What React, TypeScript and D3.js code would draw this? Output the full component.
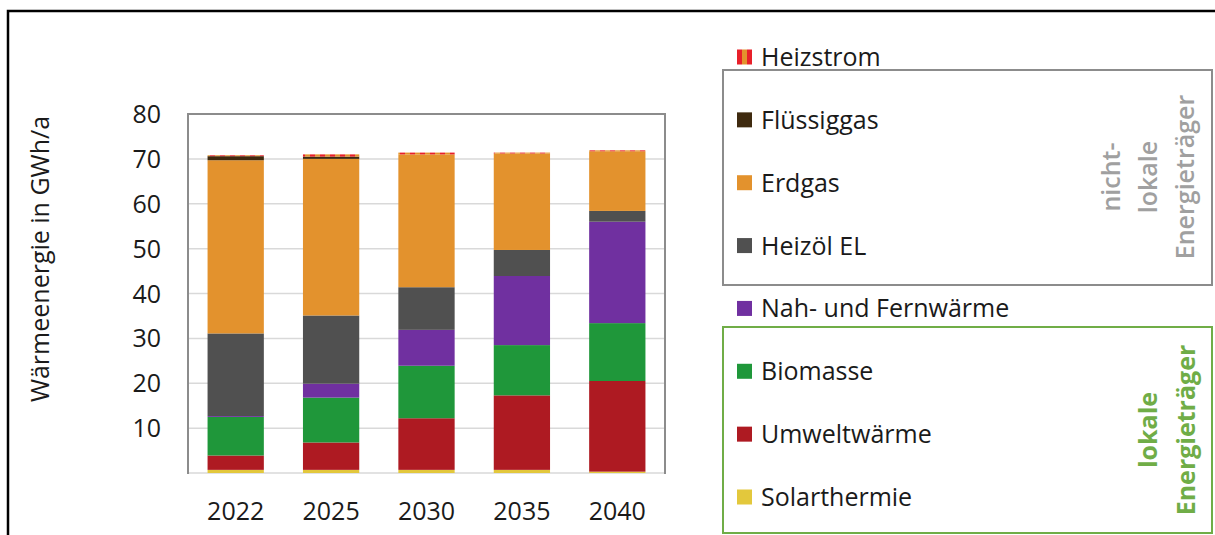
import React from "react";
import * as d3 from "d3";

const years = ["2022", "2025", "2030", "2035", "2040"];
const solarthermie = [0.7, 0.7, 0.7, 0.7, 0.3];
const umweltwaerme = [3.2, 6.1, 11.5, 16.6, 20.2];
const biomasse = [8.6, 10.0, 11.7, 11.2, 12.9];
const nahFernwaerme = [0.2, 3.1, 8.0, 15.4, 22.6];
const heizoel = [18.4, 15.2, 9.5, 5.8, 2.4];
const erdgas = [38.6, 34.9, 29.6, 21.5, 13.3];
const fluessiggas = [0.9, 0.5, 0, 0, 0];
const heizstrom = [0.2, 0.5, 0.4, 0.2, 0.2];
const yTicks = [10, 20, 30, 40, 50, 60, 70, 80];

// bottom to top stacking order
const series = [
  { key: "Solarthermie", values: solarthermie, color: "#e3c83c" },
  { key: "Umweltwärme", values: umweltwaerme, color: "#ae1a22" },
  { key: "Biomasse", values: biomasse, color: "#1f973a" },
  { key: "Nah- und Fernwärme", values: nahFernwaerme, color: "#7030a0" },
  { key: "Heizöl EL", values: heizoel, color: "#505050" },
  { key: "Erdgas", values: erdgas, color: "#e3922d" },
  { key: "Flüssiggas", values: fluessiggas, color: "#3f2a0f" },
  { key: "Heizstrom", values: heizstrom, color: "url(#heizstrom)" },
];

const FONT = "'Open Sans', 'Noto Sans', sans-serif";

export default function App() {
  const W = 1215;
  const H = 535;
  const plot = { left: 188, right: 665, top: 114, bottom: 473 };

  const x = d3
    .scaleBand()
    .domain(years)
    .range([plot.left, plot.right])
    .paddingInner(0.41)
    .paddingOuter(0.205);
  const y = d3.scaleLinear().domain([0, 80]).range([plot.bottom, plot.top]);

  const table = years.map((yr, i) => {
    const row: any = { year: yr };
    series.forEach((s) => (row[s.key] = s.values[i]));
    return row;
  });
  const stacked = d3.stack().keys(series.map((s) => s.key))(table);

  const legendOrder = [...series].reverse();
  const legendY = d3
    .scaleLinear()
    .domain([0, legendOrder.length - 1])
    .range([57, 497]);

  return (
    <svg
      width={W}
      height={H}
      style={{ position: "absolute", left: 0, top: 0, background: "#fff" }}
      fontFamily={FONT}
    >
      <defs>
        <pattern id="heizstrom" width={10} height={10} patternUnits="userSpaceOnUse">
          <rect width={10} height={10} fill="#e3922d" />
          <rect width={5} height={10} fill="#e8202a" />
        </pattern>
        <pattern id="heizstromLeg" x={737} width={10} height={10} patternUnits="userSpaceOnUse">
          <rect width={10} height={10} fill="#e3922d" />
          <rect width={5} height={10} fill="#e8202a" />
        </pattern>
      </defs>

      {/* outer frame */}
      <rect x={8} y={11} width={W + 20} height={H + 20} fill="none" stroke="#000" strokeWidth={2.5} />

      {/* gridlines */}
      {yTicks.slice(0, -1).map((t) => (
        <line key={t} x1={plot.left} x2={plot.right} y1={y(t)} y2={y(t)} stroke="#d9d9d9" strokeWidth={1.5} />
      ))}
      <line x1={plot.left} x2={plot.right} y1={y(0)} y2={y(0)} stroke="#d9d9d9" strokeWidth={1.5} />

      {/* bars */}
      {stacked.map((layer, si) => (
        <g key={layer.key} fill={series[si].color}>
          {layer.map((d, i) =>
            d[1] - d[0] > 0 ? (
              <rect
                key={i}
                x={x(years[i])}
                y={y(d[1])}
                width={x.bandwidth()}
                height={y(d[0]) - y(d[1])}
              />
            ) : null
          )}
        </g>
      ))}

      {/* plot border */}
      <path
        d={`M${plot.left},${plot.bottom + 1}V${plot.top}H${plot.right}V${plot.bottom + 1}`}
        fill="none"
        stroke="#8c8c8c"
        strokeWidth={2}
      />

      {/* y ticks */}
      {yTicks.map((t) => (
        <text key={t} x={161} y={y(t)} dy="0.36em" textAnchor="end" fontSize={25} fill="#1a1a1a">
          {t}
        </text>
      ))}
      {/* x labels */}
      {years.map((yr) => (
        <text key={yr} x={x(yr)! + x.bandwidth() / 2} y={520} textAnchor="middle" fontSize={25} fill="#1a1a1a">
          {yr}
        </text>
      ))}
      <text transform="translate(49,259) rotate(-90)" textAnchor="middle" fontSize={25} fill="#1a1a1a">
        Wärmeenergie in GWh/a
      </text>

      {/* legend group boxes */}
      <rect x={723} y={70} width={489} height={215} fill="none" stroke="#8c8c8c" strokeWidth={2} />
      <rect x={723} y={327} width={489} height={206} fill="none" stroke="#70ad47" strokeWidth={2} />
      <g fill="#a0a0a0" fontSize={25} fontWeight={600} textAnchor="middle">
        <text transform="translate(1120,177) rotate(-90)">nicht-</text>
        <text transform="translate(1157,177) rotate(-90)">lokale</text>
        <text transform="translate(1194,177) rotate(-90)">Energieträger</text>
      </g>
      <g fill="#70ad47" fontSize={25} fontWeight={700} textAnchor="middle">
        <text transform="translate(1157,430) rotate(-90)">lokale</text>
        <text transform="translate(1195,430) rotate(-90)">Energieträger</text>
      </g>

      {/* legend entries */}
      {legendOrder.map((s, i) => (
        <g key={s.key} transform={`translate(0,${legendY(i)})`}>
          <rect
            x={737}
            y={-7.5}
            width={15}
            height={15}
            fill={s.key === "Heizstrom" ? "url(#heizstromLeg)" : s.color}
          />
          <text x={761} dy="0.36em" fontSize={25} fill="#1a1a1a">
            {s.key}
          </text>
        </g>
      ))}
    </svg>
  );
}
